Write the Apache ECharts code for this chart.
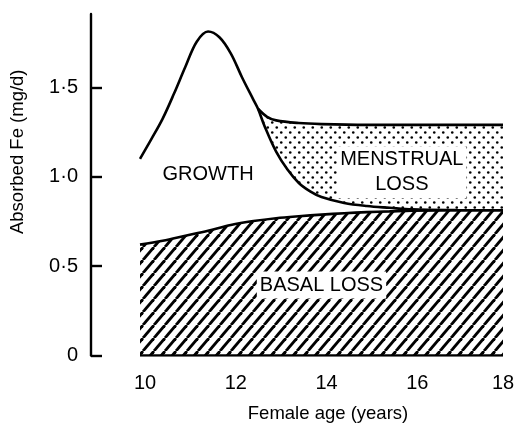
<!DOCTYPE html>
<html>
<head>
<meta charset="utf-8">
<script src="https://cdn.jsdelivr.net/npm/echarts@6/dist/echarts.min.js"></script>
<style>
  html, body { margin: 0; padding: 0; background: #fff; }
  #chart { width: 514px; height: 423px; }
</style>
</head>
<body>
<div id="chart"></div>
<script>
// age (years) -> absorbed Fe (mg/d)
const basalLoss = [[10, 0.62], [10.5, 0.642], [11, 0.67], [11.5, 0.698], [12, 0.73], [12.5, 0.752], [13, 0.768],
  [13.5, 0.779], [14, 0.788], [14.5, 0.796], [15, 0.802], [15.5, 0.806], [16, 0.81], [17, 0.812], [18, 0.812]]
const growthTotal = [[10, 1.10], [10.25, 1.21], [10.5, 1.325], [10.75, 1.465], [11, 1.615], [11.25, 1.755],
  [11.5, 1.812], [11.75, 1.78], [12, 1.69], [12.25, 1.555], [12.5, 1.43], [12.6, 1.38], [12.75, 1.28],
  [13, 1.14], [13.25, 1.04], [13.5, 0.965], [13.75, 0.918], [14, 0.886], [14.5, 0.853], [15, 0.836],
  [15.5, 0.826], [16, 0.817], [17, 0.813], [18, 0.812]]
const menstrualTop = [[12.6, 1.38], [12.8, 1.335], [13, 1.315], [13.5, 1.30], [14, 1.294], [15, 1.29], [16, 1.29], [18, 1.29]]
const baseLine = [[10, 0], [18, 0]]

const xTicks = [10, 12, 14, 16, 18]
const yTicks = [0, 0.5, 1, 1.5]
const yTickLabels = ['0', '0·5', '1·0', '1·5']

const areaLabels = [
  { name: 'GROWTH', value: [11.5, 1.01] },
  { name: 'MENSTRUAL\nLOSS', value: [15.77, 1.025] },
  { name: 'BASAL LOSS', value: [14.0, 0.394] }
]

function hatchPattern() {
  const w = 11, h = 13
  const c = document.createElement('canvas')
  c.width = w; c.height = h
  const ctx = c.getContext('2d')
  ctx.fillStyle = '#fff'
  ctx.fillRect(0, 0, w, h)
  ctx.strokeStyle = '#000'
  ctx.lineWidth = 2.8
  for (const dx of [-w, 0, w]) {
    ctx.beginPath()
    ctx.moveTo(dx, h)
    ctx.lineTo(dx + w, 0)
    ctx.stroke()
  }
  return c
}

function dotPattern() {
  const w = 9, h = 10
  const c = document.createElement('canvas')
  c.width = w; c.height = h
  const ctx = c.getContext('2d')
  ctx.fillStyle = '#fff'
  ctx.fillRect(0, 0, w, h)
  ctx.fillStyle = '#000'
  for (const [x, y] of [[2.25, 2.5], [6.75, 7.5]]) {
    ctx.beginPath()
    ctx.arc(x, y, 1.3, 0, Math.PI * 2)
    ctx.fill()
  }
  return c
}

const font = 'Liberation Sans, Arial, sans-serif'
const chart = echarts.init(document.getElementById('chart'))

const lineStyle = { color: '#000', width: 2.6 }

chart.setOption({
  backgroundColor: '#fff',
  animation: false,
  grid: { left: 91, right: 11, top: 14, bottom: 67.5, outerBoundsMode: 'none' },
  xAxis: {
    type: 'value',
    min: 8.92,
    max: 18,
    name: 'Female age (years)',
    nameLocation: 'middle',
    nameGap: 49,
    nameTextStyle: { color: '#000', fontSize: 18.5, fontFamily: font, padding: [0, 0, 0, 62] },
    axisLine: { show: false },
    axisTick: { show: false },
    splitLine: { show: false },
    axisLabel: {
      customValues: xTicks,
      color: '#000',
      fontSize: 20,
      fontFamily: font,
      margin: 18,
      // last label sits flush with the right edge in the original
      formatter: v => v === 18 ? String(v) : '{p|' + v + '}',
      rich: { p: { fontSize: 20, fontFamily: font, color: '#000', padding: [0, 0, 0, 10] } }
    }
  },
  yAxis: {
    type: 'value',
    min: 0,
    max: 1.91,
    name: 'Absorbed Fe (mg/d)',
    nameLocation: 'middle',
    nameRotate: 90,
    nameGap: 64,
    nameTextStyle: { color: '#000', fontSize: 18.5, fontFamily: font, padding: [0, 0, 0, 66] },
    axisLine: { show: true, lineStyle: { color: '#000', width: 2.4 } },
    axisTick: { show: true, inside: true, length: 11, customValues: yTicks, lineStyle: { color: '#000', width: 2.4 } },
    splitLine: { show: false },
    axisLabel: {
      customValues: yTicks,
      color: '#000',
      fontSize: 20,
      fontFamily: font,
      margin: 13,
      formatter: v => yTickLabels[yTicks.indexOf(v)]
    }
  },
  series: [
    {
      type: 'line',
      data: menstrualTop,
      smooth: 0.35,
      symbol: 'none',
      lineStyle: lineStyle,
      areaStyle: { color: { image: dotPattern(), repeat: 'repeat' }, opacity: 1 }
    },
    {
      type: 'line',
      data: growthTotal,
      smooth: 0.35,
      symbol: 'none',
      lineStyle: lineStyle,
      areaStyle: { color: '#fff', opacity: 1 }
    },
    {
      type: 'line',
      data: basalLoss,
      smooth: 0.35,
      symbol: 'none',
      lineStyle: lineStyle,
      areaStyle: { color: { image: hatchPattern(), repeat: 'repeat' }, opacity: 1 }
    },
    {
      type: 'line',
      data: baseLine,
      symbol: 'none',
      lineStyle: lineStyle
    },
    {
      type: 'scatter',
      data: areaLabels,
      symbolSize: 0,
      z: 10,
      itemStyle: { opacity: 1 },
      label: {
        show: true,
        position: 'inside',
        formatter: p => p.name,
        color: '#000',
        fontSize: 20,
        fontFamily: font,
        lineHeight: 25,
        align: 'center',
        backgroundColor: '#fff',
        padding: [1, 3, 1, 3]
      }
    }
  ]
})
</script>
</body>
</html>
